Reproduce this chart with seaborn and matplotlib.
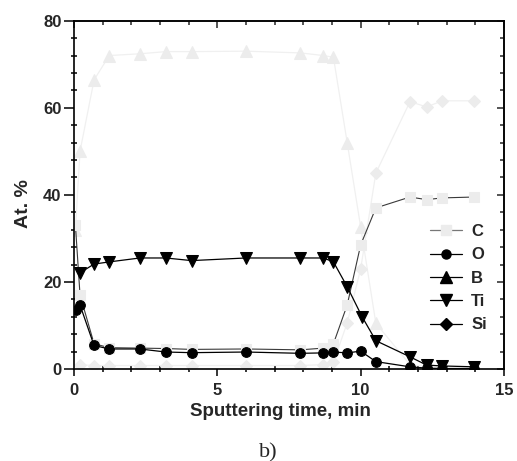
import matplotlib
matplotlib.use("Agg")
import matplotlib.pyplot as plt
import seaborn as sns
import numpy as np
import pandas as pd
from matplotlib.lines import Line2D
from matplotlib.ticker import MultipleLocator

sns.set_theme(style="white")
plt.rcParams['font.family'] = ['Liberation Sans', 'DejaVu Sans']

# ---- data ----
c_x = [0.05, 0.21, 0.7, 1.23, 2.3, 3.2, 4.1, 6.0, 7.9, 8.7, 9.05, 9.53, 10.0, 10.53, 11.72, 12.3, 12.85, 13.95]
c_y = [33.0, 17.0, 5.8, 4.9, 4.8, 4.7, 4.5, 4.6, 4.4, 4.8, 5.8, 14.7, 28.5, 37.0, 39.5, 38.9, 39.3, 39.5]

o_x = [0.07, 0.21, 0.7, 1.23, 2.3, 3.2, 4.1, 6.0, 7.9, 8.7, 9.05, 9.53, 10.0, 10.53, 11.72, 12.3, 12.85, 13.95]
o_y = [13.6, 14.7, 5.4, 4.6, 4.6, 3.9, 3.75, 3.9, 3.6, 3.7, 3.9, 3.7, 4.1, 1.7, 0.5, 0.2, 0.1, 0.1]

b_x = [0.05, 0.21, 0.7, 1.23, 2.3, 3.2, 4.1, 6.0, 7.9, 8.7, 9.05, 9.53, 10.0, 10.53, 11.72, 12.3, 12.85, 13.95]
b_y = [32.0, 50.0, 66.4, 72.0, 72.4, 72.9, 72.9, 73.0, 72.6, 72.0, 71.6, 52.0, 32.6, 10.5, 1.0, 0.5, 0.3, 0.2]

ti_x = [0.21, 0.7, 1.23, 2.3, 3.2, 4.1, 6.0, 7.9, 8.7, 9.05, 9.53, 10.05, 10.53, 11.72, 12.3, 12.85, 13.95]
ti_y = [22.1, 24.1, 24.6, 25.5, 25.5, 24.9, 25.5, 25.5, 25.5, 24.6, 18.9, 12.0, 6.5, 2.8, 0.9, 0.7, 0.5]

si_x = [0.21, 0.7, 1.23, 2.3, 3.2, 4.1, 6.0, 7.9, 8.7, 9.05, 9.53, 10.0, 10.53, 11.72, 12.3, 12.85, 13.95]
si_y = [1.0, 0.8, 0.8, 0.8, 0.8, 0.8, 0.8, 0.8, 1.0, 1.5, 10.6, 23.0, 45.0, 61.4, 60.2, 61.6, 61.6]

x_ticks = [0, 5, 10, 15]
y_ticks = [0, 20, 40, 60, 80]
labels = ["C", "O", "B", "Ti", "Si"]

LIGHT_M = "#ececec"
LIGHT_L = "#f0f0f0"

W, H = 517, 461
fig = plt.figure(figsize=(W / 100, H / 100), dpi=100)
ax = fig.add_axes([74 / W, 1 - 369 / H, (504 - 74) / W, (369 - 20.7) / H])

# faint series
sns.lineplot(x=b_x, y=b_y, ax=ax, color=LIGHT_L, lw=0.9, marker="^", markersize=8,
             markerfacecolor=LIGHT_M, markeredgecolor=LIGHT_M, sort=False)
sns.lineplot(x=si_x, y=si_y, ax=ax, color=LIGHT_L, lw=0.9, marker="D", markersize=6.5,
             markerfacecolor=LIGHT_M, markeredgecolor=LIGHT_M, sort=False)
sns.lineplot(x=c_x, y=c_y, ax=ax, color="#3a3a3a", lw=0.8, marker="s", markersize=6.5,
             markerfacecolor=LIGHT_M, markeredgecolor=LIGHT_M, sort=False)
# dark series
sns.lineplot(x=o_x, y=o_y, ax=ax, color="black", lw=0.9, marker="o", markersize=7,
             markerfacecolor="black", markeredgecolor="black", sort=False)
sns.lineplot(x=ti_x, y=ti_y, ax=ax, color="black", lw=0.9, marker="v", markersize=8.5,
             markerfacecolor="black", markeredgecolor="black", sort=False)

ax.set_xlim(0, 15)
ax.set_ylim(0, 80)
ax.set_xticks(x_ticks)
ax.set_yticks(y_ticks)
ax.xaxis.set_minor_locator(MultipleLocator(1))
ax.yaxis.set_minor_locator(MultipleLocator(4))

for s in ax.spines.values():
    s.set_color("black")
    s.set_linewidth(1.2)
    s.set_visible(True)

ax.tick_params(which="both", bottom=True, left=True, top=False, right=False,
               color="black", width=1.1)
ax.tick_params(axis="x", which="major", direction="out", length=5, labelsize=12, pad=5)
ax.tick_params(axis="y", which="major", direction="out", length=7, labelsize=12, pad=2)
ax.tick_params(which="minor", direction="inout", length=4)
for lab in ax.get_xticklabels() + ax.get_yticklabels():
    lab.set_fontweight("bold")

secx = ax.secondary_xaxis("top")
secx.set_xticks(x_ticks)
secx.xaxis.set_minor_locator(MultipleLocator(1))
secx.tick_params(which="both", direction="in", labeltop=False, width=1.1)
secx.tick_params(which="major", length=5)
secx.tick_params(which="minor", length=3)
secx.spines["top"].set_linewidth(1.2)
secy = ax.secondary_yaxis("right")
secy.set_yticks(y_ticks)
secy.yaxis.set_minor_locator(MultipleLocator(4))
secy.tick_params(which="both", direction="in", labelright=False, width=1.1)
secy.tick_params(which="major", length=5)
secy.tick_params(which="minor", length=3)
secy.spines["right"].set_linewidth(1.2)

ax.set_xlabel("Sputtering time, min", fontsize=13.5, fontweight="bold", va="top")
ax.xaxis.set_label_coords(0.481, -0.099)
ax.set_ylabel("At. %", fontsize=14, fontweight="bold")
ax.yaxis.set_label_coords(-0.098, 0.474)

handles = [
    Line2D([], [], color="#777777", lw=0.9, marker="s", markersize=6.5,
           markerfacecolor=LIGHT_M, markeredgecolor=LIGHT_M),
    Line2D([], [], color="black", lw=0.9, marker="o", markersize=6.5),
    Line2D([], [], color="black", lw=0.9, marker="^", markersize=8),
    Line2D([], [], color="black", lw=0.9, marker="v", markersize=8),
    Line2D([], [], color="black", lw=0.9, marker="D", markersize=6.5),
]
leg = ax.legend(handles, labels, loc="upper left", bbox_to_anchor=(0.815, 0.532),
                bbox_transform=fig.transFigure, frameon=False, handlelength=1.95,
                handletextpad=0.55, labelspacing=0.5, borderpad=0,
                prop={"weight": "bold", "size": 12})

fig.text(0.518, 4 / H, "b)", fontsize=16, family=["Liberation Serif", "DejaVu Serif"],
         ha="center", va="baseline")

fig.savefig("out.png", dpi=100)
